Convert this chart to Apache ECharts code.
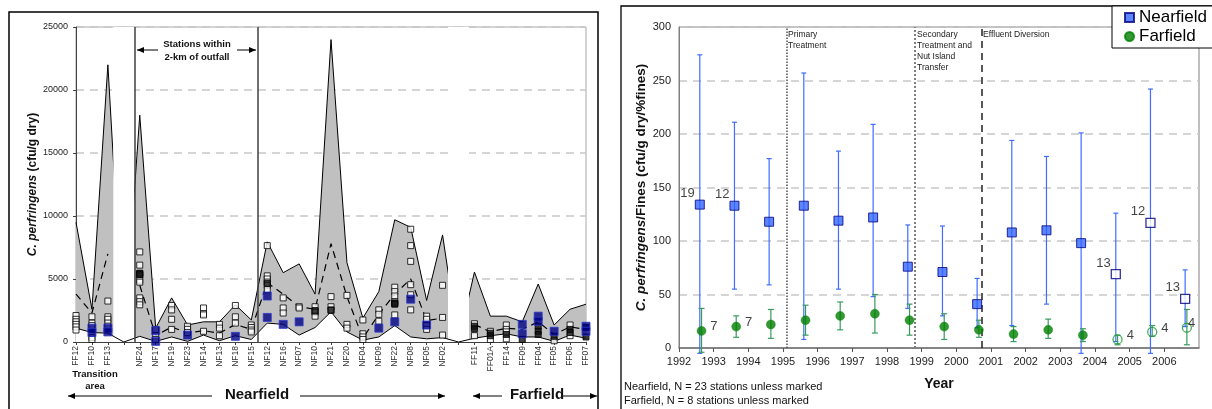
<!DOCTYPE html>
<html>
<head>
<meta charset="utf-8">
<script src="https://cdn.jsdelivr.net/npm/echarts@6/dist/echarts.min.js"></script>
<style>
  html, body { margin: 0; padding: 0; background: #fff; }
  #chart { width: 1212px; height: 409px; }
</style>
</head>
<body>
<div id="chart"></div>
<script>
// left panel: stations along the transect ('' = gap between groups)
const stations = ['FF12', 'FF10', 'FF13', '', 'NF24', 'NF17', 'NF19', 'NF23', 'NF14', 'NF13', 'NF18', 'NF15',
  'NF12', 'NF16', 'NF07', 'NF10', 'NF21', 'NF20', 'NF04', 'NF09', 'NF22', 'NF08', 'NF05', 'NF02', '',
  'FF11', 'FF01A', 'FF14', 'FF09', 'FF04', 'FF05', 'FF06', 'FF07'];
const maxVals = [9500, 2600, 22000, 0, 18000, 1100, 3500, 1350, 1600, 1600, 2950, 1750,
  7950, 5500, 6200, 3800, 24000, 6300, 1900, 4000, 9700, 9100, 3300, 8500, 0,
  5550, 2050, 2050, 1600, 4600, 1350, 2600, 3000];
const minVals = [1100, 750, 700, 0, 450, 50, 400, 50, 550, 100, 500, 200,
  1500, 1400, 550, 1150, 2400, 800, 150, 400, 1300, 400, 250, 350, 0,
  300, 500, 650, 400, 400, 50, 550, 300];
const meanVals = [3800, 2300, 7000, null, 4500, 500, 1200, 700, 900, 700, 1400, 1000,
  4700, 3800, 2800, 2600, 7800, 3600, 300, 2200, 3800, 5000, 1700, 1900, null,
  1400, 800, 1100, 1000, 1600, 600, 1200, 1000];
const surveyVals = [
  [2100, 1800, 1600, 1400, 1200, 950], [2000, 1500, 1300, 350, 200], [3250, 2000, 1800, 1500, 1250], [],
  [7150, 6100, 5450, 5300, 4900, 4750, 3500, 3200, 2950], [1000, 500, 200], [2900, 2550, 1800, 1000],
  [1250, 1000, 750], [2700, 2250, 2150, 850], [1400, 1100, 500], [2900, 2000, 1500], [1350, 1150, 950, 800],
  [7650, 5250, 5000, 4750, 4500, 4150], [3500, 2700, 2300], [2800, 2700], [2800, 2500, 2350, 2050],
  [3600, 2800, 2500], [3700, 1400, 1100], [1750, 650, 400, 200], [2550, 2200, 1650],
  [4350, 4000, 3650, 3200, 3050, 2150], [8950, 7650, 6400, 4550, 3750, 2550], [2050, 1800, 1300, 1000],
  [4500, 1950, 550], [],
  [1450, 500], [850, 200], [1350, 1000, 800, 250], [], [], [100], [1350, 500], []
];
const denseVals = [
  [], [], [], [], [5450, 5350], [], [], [], [], [], [], [], [4650], [], [], [2450], [2550], [], [], [], [3100, 3000],
  [], [], [], [],
  [1250, 1050], [700, 500], [600], [200], [1250, 850, 600], [450], [1000, 750], [1150, 400]
];
const recentVals = [
  [], [1100, 750], [1100, 800], [], [], [900, 50], [], [550], [], [], [450], [],
  [3650, 1950], [1400], [1600], [], [], [], [], [1100], [1600], [3400], [1350], [], [],
  [], [], [], [1400, 650], [2050, 1650], [850], [], [1250, 850]
];
const gapIdx = [3, 24];
const dividers = [3.71, 11.38];

// right panel: yearly means with ranges
const nfYears = [1992.6, 1993.6, 1994.6, 1995.6, 1996.6, 1997.6, 1998.6, 1999.6, 2000.6, 2001.6, 2002.6, 2003.6, 2004.6, 2005.6, 2006.6];
const nfMean = [134, 133, 118, 133, 119, 122, 76, 71, 41, 108, 110, 98, 69, 117, 46];
const nfUpper = [274, 211, 177, 257, 184, 209, 115, 114, 65, 194, 179, 201, 126, 242, 73];
const nfLower = [-5, 55, 59, 8, 55, 48, 37, 30, 19, 21, 41, -5, 6, -5, 20];
const nfOpen = [false, false, false, false, false, false, false, false, false, false, false, false, true, true, true];
const nfN = ['19', '12', '', '', '', '', '', '', '', '', '', '', '13', '12', '13'];

const ffYears = [1992.65, 1993.65, 1994.65, 1995.65, 1996.65, 1997.65, 1998.65, 1999.65, 2000.65, 2001.65, 2002.65, 2003.65, 2004.65, 2005.65, 2006.65];
const ffMean = [16, 20, 22, 26, 30, 32, 26, 20, 17, 13, 17, 12, 8, 15, 19];
const ffUpper = [37, 30, 36, 40, 43, 50, 41, 32, 26, 20, 27, 18, 12, 21, 36];
const ffLower = [-4, 10, 9, 12, 17, 14, 12, 8, 10, 6, 9, 6, 3, 11, 3];
const ffOpen = [false, false, false, false, false, false, false, false, false, false, false, false, true, true, true];
const ffN = ['7', '7', '', '', '', '', '', '', '', '', '', '', '4', '4', '4'];

const events = [1995.1, 1998.8, 2000.72];

const FONT = '"Liberation Sans", Arial, sans-serif';

function pairs(arr) {
  return arr.map((v, i) => [i, v]);
}
function flat(lists) {
  const out = [];
  lists.forEach((l, i) => l.forEach(v => out.push([i, v])));
  return out;
}

function errBar(color, cap, width) {
  return function (params, api) {
    const x = api.value(0);
    const lo = api.coord([x, api.value(1)]);
    const hi = api.coord([x, api.value(2)]);
    const s = { stroke: color, lineWidth: width };
    return {
      type: 'group',
      children: [
        { type: 'line', shape: { x1: lo[0], y1: lo[1], x2: hi[0], y2: hi[1] }, style: s },
        { type: 'line', shape: { x1: hi[0] - cap, y1: hi[1], x2: hi[0] + cap, y2: hi[1] }, style: s },
        { type: 'line', shape: { x1: lo[0] - cap, y1: lo[1], x2: lo[0] + cap, y2: lo[1] }, style: s }
      ]
    };
  };
}

// mean points, split into filled / open, with N labels
function meanPoints(years, mean, open, labels, wantOpen, side) {
  const out = [];
  years.forEach((x, i) => {
    if (open[i] !== wantOpen) return;
    const item = { value: [x, mean[i]] };
    if (labels[i]) {
      const off = side === 'left' ? [5, -11] : (i === years.length - 1 ? [-9, -4] : [-1, -4]);
      item.label = { show: true, formatter: labels[i], position: side, offset: off, fontSize: 13, color: '#111' };
    }
    out.push(item);
  });
  return out;
}

function arrow(x1, x2, y, headAt) {
  const hx = headAt === 'left' ? x1 : x2;
  const dir = headAt === 'left' ? 1 : -1;
  return [
    { type: 'line', shape: { x1: x1, y1: y, x2: x2, y2: y }, style: { stroke: '#000', lineWidth: 1 } },
    { type: 'polygon', shape: { points: [[hx, y], [hx + dir * 7, y - 3], [hx + dir * 7, y + 3]] }, style: { fill: '#000' } }
  ];
}

function txt(x, y, text, size, opts) {
  return {
    type: 'text', x: x, y: y,
    style: Object.assign({ text: text, fontSize: size, fontFamily: FONT, fill: '#111', textAlign: 'center', textVerticalAlign: 'middle' }, opts || {})
  };
}

const myChart = echarts.init(document.getElementById('chart'));

const graphics = [
  { type: 'rect', shape: { x: 9, y: 12, width: 589, height: 500 }, style: { fill: 'none', stroke: '#000', lineWidth: 1.5 }, z: 10 },
  { type: 'rect', shape: { x: 621, y: 6, width: 700, height: 500 }, style: { fill: 'none', stroke: '#000', lineWidth: 1.3 }, z: 10 },
  // left panel notes
  txt(197, 44, 'Stations within', 9.5, { fontWeight: 'bold' }),
  txt(197, 57, '2-km of outfall', 9.5, { fontWeight: 'bold' }),
  ...arrow(137, 158, 50, 'left'),
  ...arrow(237, 256, 50, 'right'),
  txt(95, 374, 'Transition', 9.5, { fontWeight: 'bold' }),
  txt(95, 386, 'area', 9.5, { fontWeight: 'bold' }),
  ...arrow(68, 212, 396, 'left'),
  txt(257, 395, 'Nearfield', 15, { fontWeight: 'bold' }),
  ...arrow(300, 445, 396, 'right'),
  ...arrow(473, 502, 396, 'left'),
  txt(537, 395, 'Farfield', 15, { fontWeight: 'bold' }),
  ...arrow(563, 597, 396, 'right'),
  // right panel notes
  txt(939, 384, 'Year', 14, { fontWeight: 'bold' }),
  txt(624, 387, 'Nearfield, N = 23 stations unless marked', 11, { textAlign: 'left' }),
  txt(624, 401, 'Farfield, N = 8 stations unless marked', 11, { textAlign: 'left' }),
  txt(788, 35, 'Primary', 8.5, { textAlign: 'left', fill: '#222' }),
  txt(788, 46, 'Treatment', 8.5, { textAlign: 'left', fill: '#222' }),
  txt(917, 35, 'Secondary', 8.5, { textAlign: 'left', fill: '#222' }),
  txt(917, 46, 'Treatment and', 8.5, { textAlign: 'left', fill: '#222' }),
  txt(917, 57, 'Nut Island', 8.5, { textAlign: 'left', fill: '#222' }),
  txt(917, 68, 'Transfer', 8.5, { textAlign: 'left', fill: '#222' }),
  txt(983, 35, 'Effluent Diversion', 8.5, { textAlign: 'left', fill: '#222' })
];

const dashGrid = { lineStyle: { type: [8, 6], color: '#c8c8c8', width: 1.5 } };

myChart.setOption({
  animation: false,
  textStyle: { fontFamily: FONT },
  grid: [
    { left: 76, top: 27, width: 510, height: 315, show: true, borderColor: '#a8a8a8', borderWidth: 1 },
    { left: 679, top: 27, width: 520, height: 321, show: true, borderColor: '#808080', borderWidth: 1 }
  ],
  legend: {
    data: [{ name: 'Nearfield', icon: 'rect' }, { name: 'Farfield', icon: 'circle' }],
    orient: 'vertical',
    left: 1112,
    top: 6,
    backgroundColor: '#fff',
    borderColor: '#000',
    borderWidth: 1,
    borderRadius: 0,
    padding: [3, 6, 3, 12],
    itemGap: 2,
    itemWidth: 9,
    itemHeight: 9,
    textStyle: { fontSize: 17, color: '#000' },
    z: 20
  },
  xAxis: [
    {
      gridIndex: 0, type: 'value', min: 0, max: 32, interval: 1,
      axisLine: { lineStyle: { color: '#404040' } },
      axisTick: { length: 3, lineStyle: { color: '#404040' } },
      axisLabel: { rotate: 90, fontSize: 8.5, color: '#333', margin: 4, formatter: v => stations[v] || '' },
      splitLine: { show: false }
    },
    {
      gridIndex: 1, type: 'value', min: 1992, max: 2007, interval: 1,
      axisLine: { lineStyle: { color: '#707070', width: 1.5 } },
      axisTick: { length: 4, lineStyle: { color: '#555' } },
      axisLabel: { fontSize: 11, color: '#222', margin: 8, showMaxLabel: false, formatter: v => String(v) },
      splitLine: { show: false }
    }
  ],
  yAxis: [
    {
      gridIndex: 0, type: 'value', min: 0, max: 25000, interval: 5000,
      name: '{i|C. perfringens}{b| (cfu/g dry)}',
      nameLocation: 'middle', nameGap: 34, nameRotate: 90,
      nameTextStyle: { rich: {
        i: { fontStyle: 'italic', fontWeight: 'bold', fontSize: 12, color: '#111' },
        b: { fontWeight: 'bold', fontSize: 12, color: '#111' }
      } },
      axisLine: { show: true, lineStyle: { color: '#404040' } },
      axisTick: { show: true, length: 3, lineStyle: { color: '#404040' } },
      axisLabel: { fontSize: 9, color: '#222', margin: 8, formatter: v => String(v) },
      splitLine: dashGrid
    },
    {
      gridIndex: 1, type: 'value', min: 0, max: 300, interval: 50,
      name: '{i|C. perfringens}{b|/Fines (cfu/g dry/%fines)}',
      nameLocation: 'middle', nameGap: 30, nameRotate: 90,
      nameTextStyle: { rich: {
        i: { fontStyle: 'italic', fontWeight: 'bold', fontSize: 13.5, color: '#111' },
        b: { fontWeight: 'bold', fontSize: 13.5, color: '#111' }
      } },
      axisLine: { show: true, lineStyle: { color: '#808080' } },
      axisTick: { show: false },
      axisLabel: { fontSize: 11, color: '#222', margin: 8 },
      splitLine: dashGrid
    }
  ],
  series: [
    // ---- left panel ----
    {
      name: 'maximum', type: 'line', xAxisIndex: 0, yAxisIndex: 0,
      data: pairs(maxVals), symbol: 'none', silent: true, z: 2,
      lineStyle: { color: '#000', width: 1 }, areaStyle: { color: '#c0c0c0', opacity: 1 }
    },
    {
      name: 'minFill', type: 'line', xAxisIndex: 0, yAxisIndex: 0,
      data: pairs(minVals), symbol: 'none', silent: true, z: 2,
      lineStyle: { opacity: 0 }, areaStyle: { color: '#fff', opacity: 1 }
    },
    {
      name: 'gaps', type: 'bar', xAxisIndex: 0, yAxisIndex: 0,
      data: gapIdx.map(i => [i, 25000]), barWidth: 21, silent: true, z: 3,
      itemStyle: { color: '#fff' }
    },
    {
      name: 'minimum', type: 'line', xAxisIndex: 0, yAxisIndex: 0,
      data: pairs(minVals), symbol: 'none', silent: true, z: 4,
      lineStyle: { color: '#000', width: 1 },
      markLine: {
        silent: true, symbol: 'none', label: { show: false },
        lineStyle: { type: 'solid', color: '#404040', width: 1.5 },
        data: dividers.map(x => ({ xAxis: x }))
      }
    },
    {
      name: 'mean', type: 'line', xAxisIndex: 0, yAxisIndex: 0,
      data: pairs(meanVals), symbol: 'none', silent: true, z: 4, connectNulls: false,
      lineStyle: { color: '#000', width: 1.2, type: [7, 5] }
    },
    {
      name: 'surveys', type: 'scatter', xAxisIndex: 0, yAxisIndex: 0,
      data: flat(surveyVals), symbol: 'rect', symbolSize: 6, z: 5,
      itemStyle: { color: '#fff', borderColor: '#000', borderWidth: 1 }
    },
    {
      name: 'surveysDense', type: 'scatter', xAxisIndex: 0, yAxisIndex: 0,
      data: flat(denseVals), symbol: 'rect', symbolSize: 6, z: 5,
      itemStyle: { color: '#111', borderColor: '#000', borderWidth: 1 }
    },
    {
      name: 'recent', type: 'scatter', xAxisIndex: 0, yAxisIndex: 0,
      data: flat(recentVals), symbol: 'rect', symbolSize: 8, z: 6,
      itemStyle: { color: '#000080', borderColor: '#2a3acc', borderWidth: 1 }
    },
    // ---- right panel ----
    {
      name: 'nfErr', type: 'custom', xAxisIndex: 1, yAxisIndex: 1, clip: false, z: 3,
      renderItem: errBar('#3f6cff', 2.5, 1.2),
      encode: { x: 0, y: [1, 2] },
      data: nfYears.map((x, i) => [x, nfLower[i], nfUpper[i]])
    },
    {
      name: 'ffErr', type: 'custom', xAxisIndex: 1, yAxisIndex: 1, clip: false, z: 3,
      renderItem: errBar('#3a9a5e', 3, 1.2),
      encode: { x: 0, y: [1, 2] },
      data: ffYears.map((x, i) => [x, ffLower[i], ffUpper[i]])
    },
    {
      name: 'Nearfield', type: 'scatter', xAxisIndex: 1, yAxisIndex: 1, z: 5,
      symbol: 'rect', symbolSize: 9,
      itemStyle: { color: '#3366ff', borderColor: '#000080', borderWidth: 1 },
      data: meanPoints(nfYears, nfMean, nfOpen, nfN, false, 'left')
    },
    {
      name: 'nfOpen', type: 'scatter', xAxisIndex: 1, yAxisIndex: 1, z: 5,
      symbol: 'rect', symbolSize: 9,
      itemStyle: { color: '#fff', borderColor: '#000080', borderWidth: 1.3 },
      data: meanPoints(nfYears, nfMean, nfOpen, nfN, true, 'left')
    },
    {
      name: 'Farfield', type: 'scatter', xAxisIndex: 1, yAxisIndex: 1, z: 5,
      symbol: 'circle', symbolSize: 9,
      itemStyle: { color: '#008000', borderColor: '#008000', borderWidth: 0.5 },
      data: meanPoints(ffYears, ffMean, ffOpen, ffN, false, 'right')
    },
    {
      name: 'ffOpen', type: 'scatter', xAxisIndex: 1, yAxisIndex: 1, z: 5,
      symbol: 'circle', symbolSize: 9,
      itemStyle: { color: 'rgba(255,255,255,0)', borderColor: '#1a9a2a', borderWidth: 1.3 },
      data: meanPoints(ffYears, ffMean, ffOpen, ffN, true, 'right')
    },
    {
      name: 'events', type: 'line', xAxisIndex: 1, yAxisIndex: 1, data: [], z: 2,
      markLine: {
        silent: true, symbol: 'none', label: { show: false },
        data: [
          { xAxis: events[0], lineStyle: { type: 'dotted', color: '#505050', width: 1.5 } },
          { xAxis: events[1], lineStyle: { type: 'dotted', color: '#808080', width: 2 } },
          { xAxis: events[2], lineStyle: { type: [7, 5], color: '#222', width: 1.5 } }
        ]
      }
    }
  ],
  graphic: graphics
});
</script>
</body>
</html>
